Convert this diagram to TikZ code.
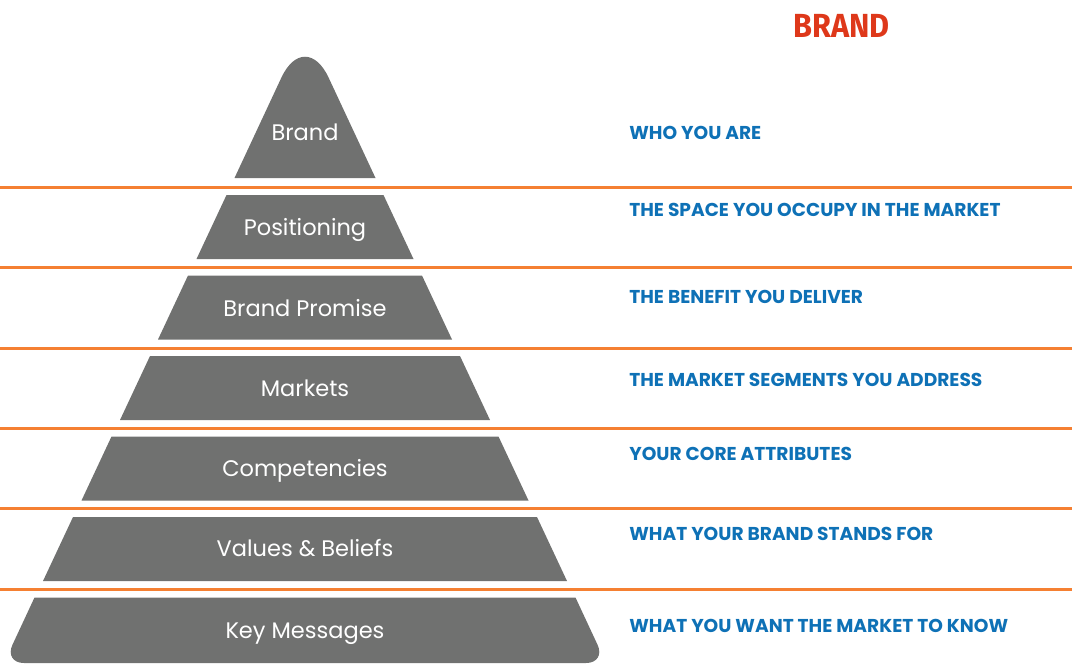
\documentclass[tikz,border=0pt]{standalone}
\usepackage{fontspec}
\setmainfont{Poppins}
\newfontfamily\titlefont{Fira Sans}
\usepackage{tikz}

\definecolor{layergray}{RGB}{112,113,112}
\definecolor{lineorange}{RGB}{245,128,50}
\definecolor{noteblue}{RGB}{14,113,182}
\definecolor{titlered}{RGB}{222,56,26}

\tikzstyle{layer} = [fill=layergray]
\tikzstyle{divider} = [draw=lineorange, line width=1.7pt]
\tikzstyle{layertext} = [text=white, anchor=base, inner sep=0, font=\fontsize{12.8}{15}\selectfont]
\tikzstyle{notetext} = [text=noteblue, anchor=west, inner sep=0, font=\bfseries\fontsize{10.6}{12}\selectfont]

\begin{document}
\begin{tikzpicture}[x=0.02cm, y=-0.02cm]
	\def \cx {305}
	\def \xr {1072}
	\useasboundingbox (0,0) rectangle (1077,664);
	\begin{scope}
		
		% pyramid
		\fill [layer] (234.5,178) -- (281.3,77.8) .. controls (294.4,49.7) and (315.6,49.7) .. (328.7,77.8) -- (375.5,178) -- cycle;
		\fill [layer] (\cx-78.5,195) -- (\cx+78.5,195) -- (\cx+108.5,259) -- (\cx-108.5,259) -- cycle;
		\fill [layer] (\cx-117,275.5) -- (\cx+117,275.5) -- (\cx+147,339.5) -- (\cx-147,339.5) -- cycle;
		\fill [layer] (\cx-155,356) -- (\cx+155,356) -- (\cx+185,420) -- (\cx-185,420) -- cycle;
		\fill [layer] (\cx-193.5,436.5) -- (\cx+193.5,436.5) -- (\cx+223.5,500.5) -- (\cx-223.5,500.5) -- cycle;
		\fill [layer] (\cx-232,517) -- (\cx+232,517) -- (\cx+262,581) -- (\cx-262,581) -- cycle;
		\fill [layer] (\cx-270.5,597.5) -- (\cx+270.5,597.5) -- (597.6,644.9) .. controls (602.2,654.9) and (597.05,663) .. (586,663) -- (24,663) .. controls (12.95,663) and (7.8,654.9) .. (12.4,644.9) -- cycle;
		
		\node (layer1) at (\cx,140) [layertext] {Brand};
		\node (layer2) at (\cx,235) [layertext] {Positioning};
		\node (layer3) at (\cx,316) [layertext] {Brand Promise};
		\node (layer4) at (\cx,396.5) [layertext] {Markets};
		\node (layer5) at (\cx,476) [layertext] {Competencies};
		\node (layer6) at (\cx,556.5) [layertext] {Values \& Beliefs};
		\node (layer7) at (\cx,638) [layertext] {Key Messages};
		
		% dividers
		\draw [divider] (0,187) -- (\xr,187);
		\draw [divider] (0,267.5) -- (\xr,267.5);
		\draw [divider] (0,348) -- (\xr,348);
		\draw [divider] (0,428) -- (\xr,428);
		\draw [divider] (0,508.5) -- (\xr,508.5);
		\draw [divider] (0,589) -- (\xr,589);
		
		\node (title) at (841.5,26) [text=titlered, inner sep=0, font=\titlefont\bfseries\fontsize{19}{21}\selectfont] {\scalebox{0.92}[1]{BRAND}};
		\node (note1) at (629,133) [notetext] {WHO YOU ARE};
		\node (note2) at (629,210) [notetext] {THE SPACE YOU OCCUPY IN THE MARKET};
		\node (note3) at (629,297) [notetext] {THE BENEFIT YOU DELIVER};
		\node (note4) at (629,380) [notetext] {THE MARKET SEGMENTS YOU ADDRESS};
		\node (note5) at (629,454) [notetext] {YOUR CORE ATTRIBUTES};
		\node (note6) at (629,534) [notetext] {WHAT YOUR BRAND STANDS FOR};
		\node (note7) at (629,626) [notetext] {WHAT YOU WANT THE MARKET TO KNOW};
	\end{scope}
\end{tikzpicture}
\end{document}
